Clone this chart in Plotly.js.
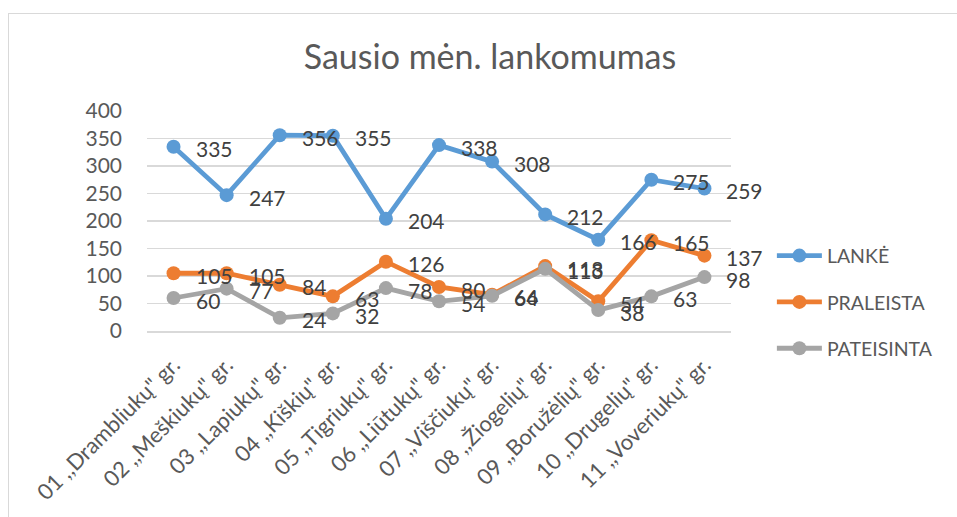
<!DOCTYPE html>
<html>
<head>
<meta charset="utf-8">
<script src="https://cdn.plot.ly/plotly-3.0.1.min.js"></script>
<style>
html,body{margin:0;padding:0;background:#fff;}
#wrap{position:relative;width:957px;height:517px;overflow:hidden;}
#chart{position:absolute;left:0;top:0;width:957px;height:517px;}
#frame{position:absolute;left:8px;top:13px;width:1000px;height:600px;border:1.5px solid #d9d9d9;pointer-events:none;}
</style>
</head>
<body>
<div id="wrap"><div id="chart"></div><div id="frame"></div></div>
<script>
const categories = [
  '01 ,,Drambliukų" gr.', '02 ,,Meškiukų" gr.', '03 ,,Lapiukų" gr.', '04 ,,Kiškių" gr.',
  '05 ,,Tigriukų" gr.', '06 ,,Liūtukų" gr.', '07 ,,Viščiukų" gr.', '08 ,,Žiogelių" gr.',
  '09 ,,Boružėlių" gr.', '10 ,,Drugelių" gr.', '11 ,,Voveriukų" gr.'
];
const lanke      = [335, 247, 356, 355, 204, 338, 308, 212, 166, 275, 259];
const praleista  = [105, 105, 84, 63, 126, 80, 66, 118, 54, 165, 137];
const pateisinta = [60, 77, 24, 32, 78, 54, 64, 113, 38, 63, 98];
const seriesNames = ['LANKĖ', 'PRALEISTA', 'PATEISINTA'];
const yTicks = [0, 50, 100, 150, 200, 250, 300, 350, 400];

const colors = ['#5B9BD5', '#ED7D31', '#A5A5A5'];
const seriesData = [lanke, praleista, pateisinta];
const FONT = 'Lato, "Open Sans", sans-serif';

const traces = seriesData.map((vals, i) => ({
  type: 'scatter', mode: 'lines+markers', name: seriesNames[i],
  x: categories, y: vals, legendgroup: 'g' + i,
  line: {color: colors[i], width: 4.8},
  marker: {color: colors[i], size: 14},
  cliponaxis: false
}));

const annotations = [];
seriesData.forEach((vals, i) => {
  vals.forEach((v, j) => {
    annotations.push({
      x: categories[j], y: v, xref: 'x', yref: 'y', text: String(v),
      showarrow: false, xanchor: 'left', yanchor: 'middle', xshift: 20, yshift: -2,
      font: {family: FONT, size: 21, color: '#404040'}
    });
  });
});

const layout = {
  width: 957, height: 517,
  paper_bgcolor: '#fff', plot_bgcolor: '#fff',
  margin: {l: 147, r: 226, t: 111, b: 186},
  title: {
    text: 'Sausio mėn. lankomumas', x: 0.512, xref: 'container', xanchor: 'center',
    y: 0.89, yref: 'container', yanchor: 'middle',
    font: {family: FONT, size: 34, color: '#595959'}
  },
  xaxis: {
    type: 'category', tickangle: -45, showgrid: false, zeroline: false,
    showline: true, linecolor: '#d9d9d9', linewidth: 1.5,
    tickfont: {family: FONT, size: 22, color: '#595959'}, ticks: '',
    ticklabelstandoff: 11,
    range: [-0.5, 10.5]
  },
  yaxis: {
    range: [0, 400], tickvals: yTicks, ticktext: yTicks.map(String),
    showgrid: true, gridcolor: '#d9d9d9', gridwidth: 1.5, zeroline: false,
    showline: false, ticks: '', ticklabelstandoff: 24,
    tickfont: {family: FONT, size: 21, color: '#595959'}
  },
  legend: {
    x: 1.07, xanchor: 'left', y: 0.43, yanchor: 'top',
    font: {family: FONT, size: 19.5, color: '#595959'},
    tracegroupgap: 18, itemwidth: 45, bgcolor: 'rgba(0,0,0,0)'
  },
  annotations: annotations,
  showlegend: true
};

Plotly.newPlot('chart', traces, layout, {displayModeBar: false, staticPlot: true});
</script>
</body>
</html>
